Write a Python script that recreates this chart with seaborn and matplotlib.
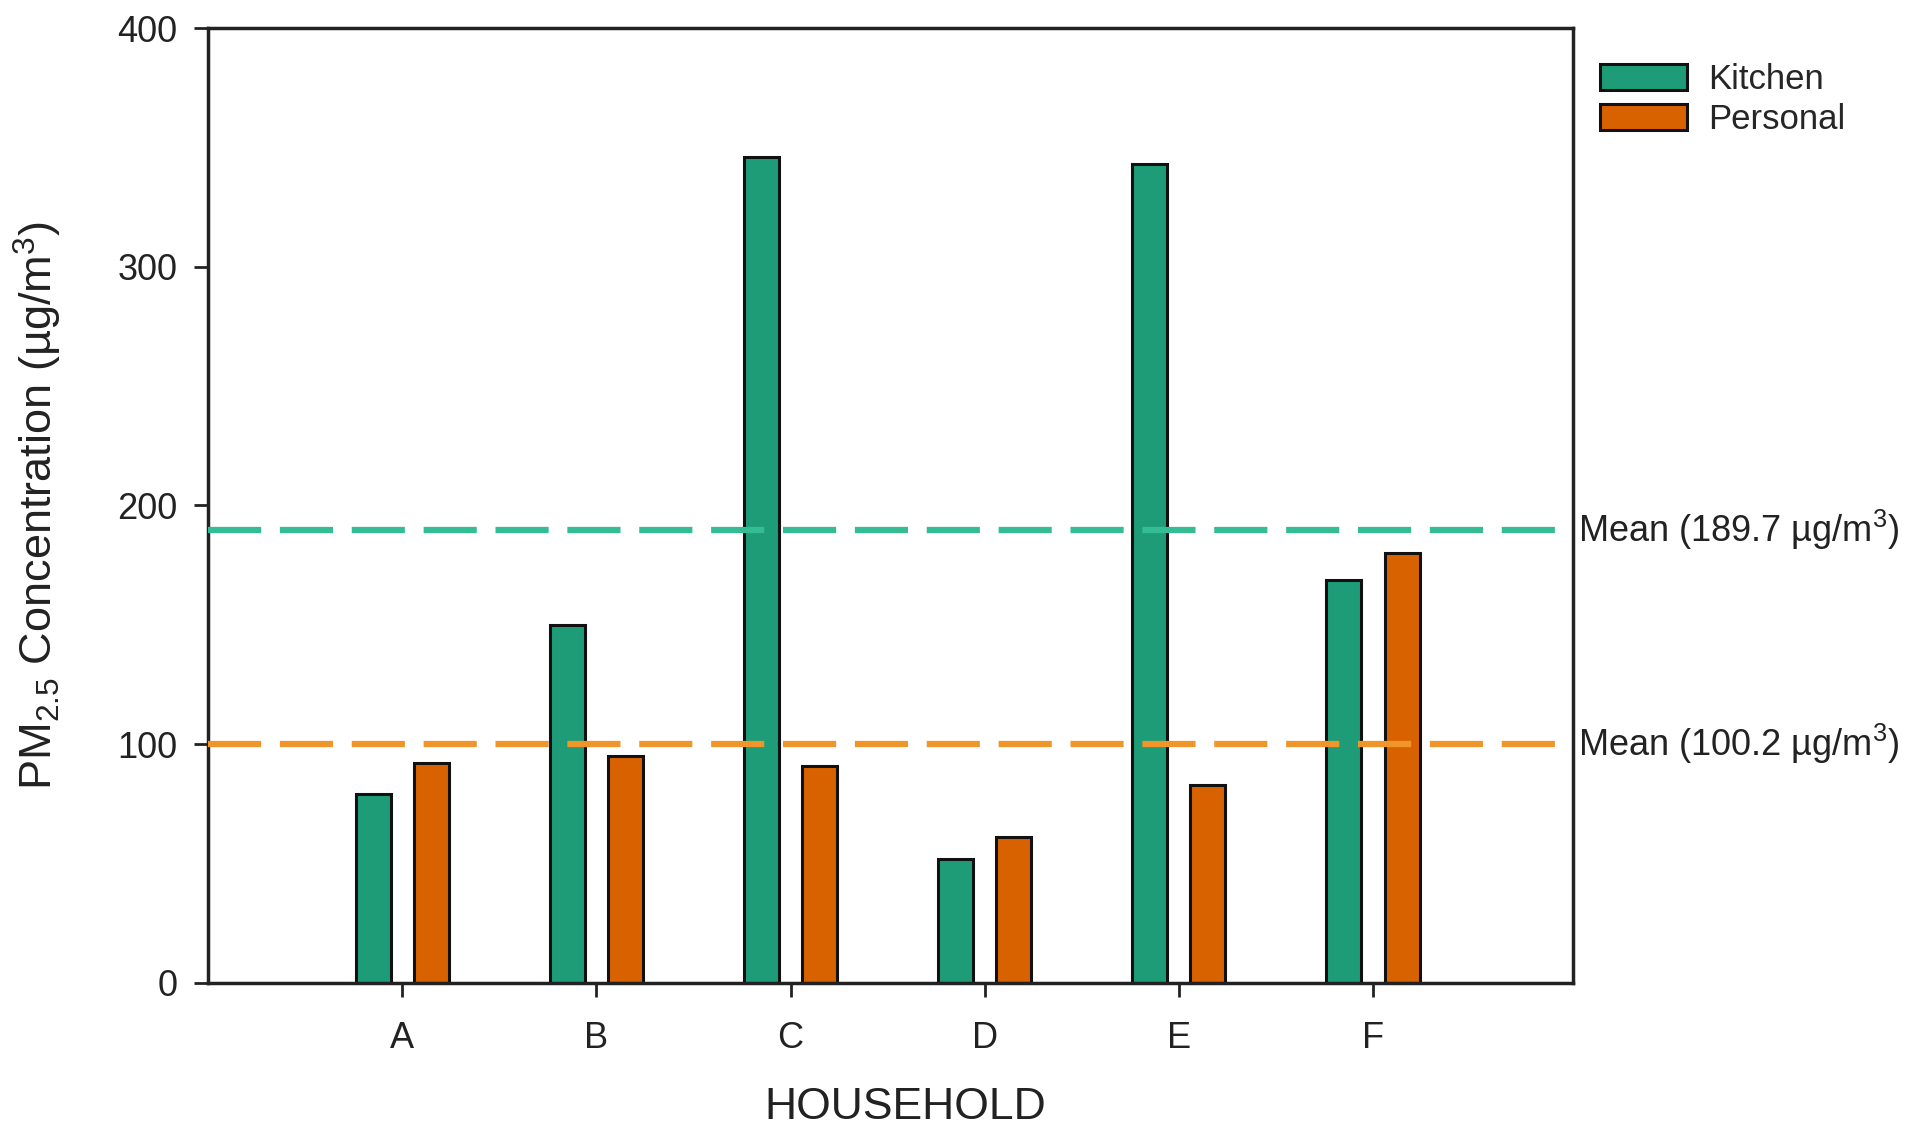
import pandas as pd
import matplotlib.pyplot as plt
import matplotlib.transforms as mtransforms
import seaborn as sns

# values
households = ["A", "B", "C", "D", "E", "F"]
kitchen = [79, 150, 346, 52, 343, 169]
personal = [92, 95, 91, 61, 83, 180]
kitchen_mean = 189.7
personal_mean = 100.2

df = pd.DataFrame({
    "Household": households * 2,
    "Location": ["Kitchen"] * len(households) + ["Personal"] * len(households),
    "PM25": kitchen + personal,
})

sns.set_style("ticks")
plt.rcParams["font.family"] = ["Liberation Sans", "DejaVu Sans"]
plt.rcParams["mathtext.fontset"] = "custom"
plt.rcParams["mathtext.rm"] = "Liberation Sans"
plt.rcParams["mathtext.it"] = "Liberation Sans:italic"

fig = plt.figure(figsize=(19.2, 11.44), dpi=100)
ax = fig.add_axes([208 / 1920, 1 - 983 / 1144, 1365 / 1920, 955 / 1144])

sns.barplot(
    data=df, x="Household", y="PM25", hue="Location",
    palette=["#1e9c77", "#d96200"], saturation=1, edgecolor="#111111",
    linewidth=2.2, width=0.6, gap=0.4, ax=ax,
)

# mean lines
ax.axhline(kitchen_mean, color="#34bd95", lw=4.5, dashes=(8.5, 3), zorder=5)
ax.axhline(personal_mean, color="#f0952a", lw=4.5, dashes=(8.5, 3), zorder=5)

trans = mtransforms.blended_transform_factory(ax.transAxes, ax.transData)
ax.text(1.004, kitchen_mean, "Mean (189.7 µg/m$^3$)", transform=trans,
        va="center", ha="left", fontsize=26, color="#222222")
ax.text(1.004, personal_mean, "Mean (100.2 µg/m$^3$)", transform=trans,
        va="center", ha="left", fontsize=26, color="#222222")

ax.set_xlim(-1.0, 6.03)
ax.set_ylim(0, 400)
ax.set_yticks([0, 100, 200, 300, 400])

for side in ["left", "bottom", "right", "top"]:
    ax.spines[side].set_visible(True)
    ax.spines[side].set_linewidth(2.5)
    ax.spines[side].set_color("#222222")

ax.tick_params(axis="both", direction="out", length=10, width=2, labelsize=26,
               colors="#222222")
ax.tick_params(axis="x", pad=17, top=False)
ax.tick_params(axis="y", pad=12, right=False)

ax.set_xlabel("HOUSEHOLD", fontsize=32, color="#222222")
ax.set_ylabel("PM$_{2.5}$ Concentration (µg/m$^3$)", fontsize=32.5,
              color="#222222")
ax.xaxis.set_label_coords(0.511, (983 - 1087) / 955)
ax.yaxis.set_label_coords((64 - 208) / 1365, 0.5)

handles, labels = ax.get_legend_handles_labels()
ax.legend(handles, labels, loc="upper left", bbox_to_anchor=(1600 / 1920, 1 - 63 / 1144),
          bbox_transform=fig.transFigure, frameon=False, fontsize=25,
          handlelength=2.5, handleheight=0.8, handletextpad=0.6,
          labelspacing=0.2, borderpad=0, borderaxespad=0)

fig.savefig("out.png", dpi=100)
